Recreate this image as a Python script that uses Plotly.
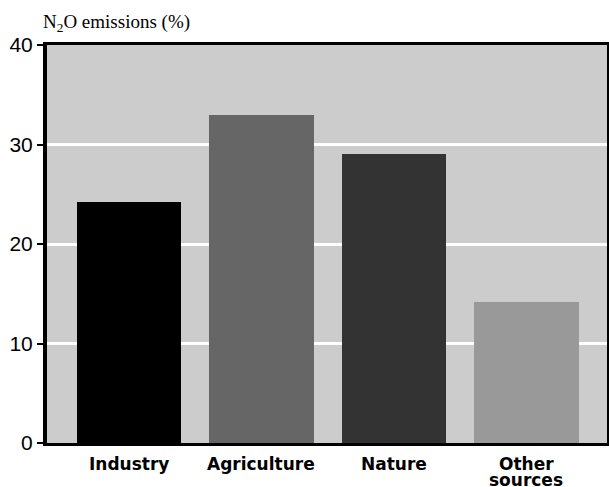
import plotly.graph_objects as go

categories = ["Industry", "Agriculture", "Nature", "Other<br>sources"]
values = [24.2, 33.0, 29.0, 14.2]
bar_colors = ["#000000", "#666666", "#333333", "#999999"]
y_ticks = [0, 10, 20, 30, 40]

positions = list(range(len(categories)))

fig = go.Figure(
    go.Bar(
        x=positions,
        y=values,
        marker=dict(color=bar_colors, line=dict(width=0)),
        width=0.79,
    )
)

label_font = dict(family="DejaVu Sans, Verdana, sans-serif", size=17, color="black", weight="bold")

# category labels, one annotation per text line so the line spacing stays tight
annotations = []
for pos, cat in zip(positions, categories):
    for i, line in enumerate(cat.split("<br>")):
        annotations.append(
            dict(
                text=line,
                xref="x", yref="paper", x=pos, y=0,
                xanchor="center", yanchor="top",
                yshift=-9 - 16 * i,
                showarrow=False,
                font=label_font,
            )
        )

annotations.append(
    dict(
        text="N<sub>2</sub>O emissions (%)",
        xref="paper", yref="paper", x=0, y=1,
        xanchor="left", yanchor="bottom",
        xshift=-6, yshift=8,
        showarrow=False,
        font=dict(family="Liberation Serif, Times New Roman, serif", size=19, color="black"),
    )
)

fig.update_layout(
    width=609,
    height=487,
    margin=dict(l=47, r=2, t=45, b=44),
    paper_bgcolor="white",
    plot_bgcolor="#cccccc",
    showlegend=False,
    bargap=0,
    annotations=annotations,
)

fig.update_xaxes(
    range=[-0.62, 3.61],
    tickvals=positions,
    showticklabels=False,
    showgrid=False,
    zeroline=False,
    showline=True,
    mirror=True,
    linecolor="black",
    linewidth=3,
    ticks="",
    automargin=False,
)

fig.update_yaxes(
    range=[0, 40],
    tickmode="array",
    tickvals=y_ticks,
    showgrid=True,
    gridcolor="white",
    gridwidth=3,
    zeroline=False,
    showline=True,
    mirror=True,
    linecolor="black",
    linewidth=4,
    ticks="outside",
    ticklen=6,
    tickwidth=2,
    tickcolor="black",
    automargin=False,
    tickfont=dict(family="Liberation Sans, Arial, sans-serif", size=21, color="black"),
)

fig.write_html("out.html")
